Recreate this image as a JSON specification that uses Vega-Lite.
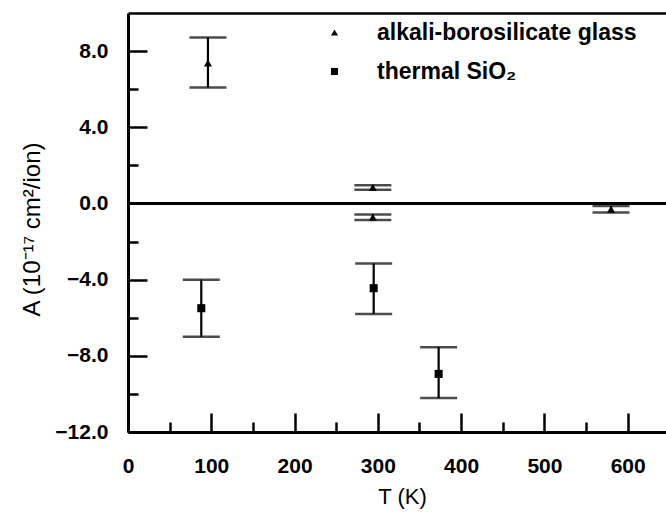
{
  "$schema": "https://vega.github.io/schema/vega-lite/v6.json",
  "width": 538,
  "height": 419,
  "autosize": {"type": "none"},
  "padding": {"left": 128, "top": 13, "right": 0, "bottom": 82},
  "config": {
    "view": {"stroke": null},
    "font": "Liberation Sans",
    "axis": {"grid": false, "domainColor": "black", "tickColor": "black", "labelColor": "black", "titleColor": "black", "labelFont": "Liberation Sans", "titleFont": "Liberation Sans"}
  },
  "data": {
    "values": [
      {"series": "alkali-borosilicate glass", "T": 96, "A": 7.38, "lo": 6.09, "hi": 8.71},
      {"series": "alkali-borosilicate glass", "T": 294, "A": 0.84, "lo": 0.72, "hi": 0.96},
      {"series": "alkali-borosilicate glass", "T": 294, "A": -0.72, "lo": -0.87, "hi": -0.58},
      {"series": "alkali-borosilicate glass", "T": 580, "A": -0.3, "lo": -0.48, "hi": -0.14},
      {"series": "thermal SiO₂", "T": 88, "A": -5.5, "lo": -7.0, "hi": -4.0},
      {"series": "thermal SiO₂", "T": 295, "A": -4.45, "lo": -5.8, "hi": -3.15},
      {"series": "thermal SiO₂", "T": 373, "A": -8.95, "lo": -10.22, "hi": -7.55}
    ]
  },
  "layer": [
    {
      "mark": {"type": "rule", "strokeWidth": 2.5, "color": "black"},
      "encoding": {
        "y": {"datum": 0, "type": "quantitative", "scale": {"domain": [-12, 10], "nice": false, "zero": false}, "axis": null}
      }
    },
    {
      "mark": {"type": "rule", "strokeWidth": 2.2, "color": "black"},
      "encoding": {
        "x": {"field": "T", "type": "quantitative", "scale": {"domain": [0, 646], "nice": false, "zero": false},
          "axis": {"orient": "bottom", "values": [0, 100, 200, 300, 400, 500, 600], "format": "d", "tickSize": -19, "tickWidth": 2.5, "domainWidth": 3, "labelFontSize": 21, "labelFontWeight": "bold", "labelPadding": 42, "labelFlush": false, "labelOverlap": false, "title": "T (K)", "titleFontSize": 22, "titleFontWeight": "normal", "titleX": 274, "titleY": 76, "titleBaseline": "bottom"}},
        "y": {"field": "lo", "type": "quantitative", "scale": {"domain": [-12, 10], "nice": false, "zero": false},
          "axis": {"orient": "left", "values": [-12, -8, -4, 0, 4, 8], "format": ".1f", "tickSize": -19, "tickWidth": 2.5, "domainWidth": 3, "labelFontSize": 21, "labelFontWeight": "bold", "labelPadding": 39, "labelFlush": false, "labelOverlap": false, "title": "A (10⁻¹⁷ cm²/ion)", "titleFontSize": 24, "titleFontWeight": "normal", "titleX": -84, "titleY": 216, "titleBaseline": "bottom", "titleAngle": 270}},
        "y2": {"field": "hi"}
      }
    },
    {
      "mark": {"type": "tick", "orient": "horizontal", "size": 37, "thickness": 2.5, "color": "black"},
      "encoding": {
        "x": {"field": "T", "type": "quantitative",
          "axis": {"orient": "bottom", "values": [50, 150, 250, 350, 450, 550], "tickSize": -10, "tickWidth": 2.5, "domain": false, "labels": false, "title": null}},
        "y": {"field": "lo", "type": "quantitative",
          "axis": {"orient": "left", "values": [-10, -6, -2, 2, 6], "tickSize": -10, "tickWidth": 2.5, "domain": false, "labels": false, "title": null}}
      }
    },
    {
      "mark": {"type": "tick", "orient": "horizontal", "size": 37, "thickness": 2.5, "color": "black"},
      "encoding": {
        "x": {"field": "T", "type": "quantitative",
          "axis": {"orient": "top", "ticks": false, "labels": false, "domainWidth": 2.5, "title": null}},
        "y": {"field": "hi", "type": "quantitative", "axis": null}
      }
    },
    {
      "mark": {"type": "point", "filled": true, "opacity": 1, "color": "black"},
      "encoding": {
        "x": {"field": "T", "type": "quantitative", "axis": null},
        "y": {"field": "A", "type": "quantitative", "axis": null},
        "shape": {"field": "series", "type": "nominal",
          "scale": {"domain": ["alkali-borosilicate glass", "thermal SiO₂"], "range": ["triangle-up", "square"]},
          "legend": {"orient": "none", "legendX": 195, "legendY": 8, "title": null, "labelFontSize": 23, "labelFontWeight": "bold", "labelColor": "black", "labelFont": "Liberation Sans", "labelOffset": 31, "rowPadding": 15, "symbolSize": 50, "symbolFillColor": "black", "symbolStrokeColor": "black", "labelLimit": 400, "padding": 0}},
        "size": {"value": 65}
      }
    }
  ],
  "resolve": {"axis": {"x": "independent", "y": "independent"}}
}
